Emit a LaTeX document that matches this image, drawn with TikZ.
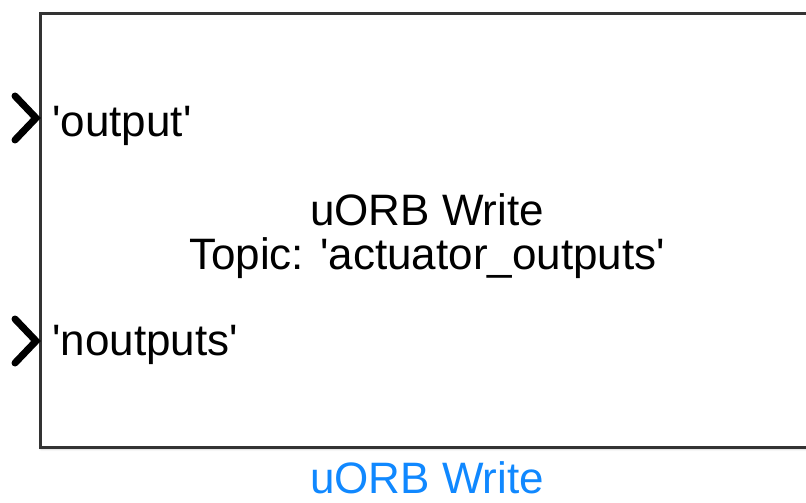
\documentclass[tikz,border=0pt]{standalone}
\definecolor{blockedge}{RGB}{51,51,51}
\definecolor{blockname}{RGB}{16,136,255}
\usepackage{fontspec}
\setmainfont{Liberation Sans}
\usepackage{tikz}
\usetikzlibrary{positioning,calc,shadows.blur}

\begin{document}
\begin{tikzpicture}[x=0.5pt, y=-0.5pt,
    blocktext/.style={font=\fontsize{22}{22}\selectfont, inner sep=0pt},
    porttip/.style={line width=3.5pt, line cap=round, line join=miter, draw=black}]
    \useasboundingbox (0,0) rectangle (806,502);
    \clip (0,0) rectangle (806,502);

    % the block itself, runs on past the right edge
    \node[draw=blockedge, line width=1.5pt, fill=white, minimum width=388pt, minimum height=216.5pt,
          inner sep=0pt, blur shadow={shadow xshift=0.6pt, shadow yshift=-0.8pt, shadow blur radius=1.2pt, shadow opacity=35}]
          (block) at (428,230.5) {};

    % mask and topic (base sits on the last line)
    \node[blocktext, align=center, anchor=base] (mask) at (427,269)
        {uORB Write\\Topic: \textquotesingle actuator\_outputs\textquotesingle};

    % inports
    \coordinate (in1) at (36,118);
    \coordinate (in2) at (36,341);
    \foreach \p in {in1,in2}
        \draw[porttip] ($(\p)+(-21,-22)$) -- (\p) -- ($(\p)+(-21,22)$);
    \node[blocktext, anchor=base west] (lbl1) at (52,137) {\textquotesingle output\textquotesingle};
    \node[blocktext, anchor=base west] (lbl2) at (52,355) {\textquotesingle noutputs\textquotesingle};

    % block name underneath
    \node[blocktext, text=blockname, anchor=base] (name) at (427,493) {uORB Write};
\end{tikzpicture}
\end{document}
